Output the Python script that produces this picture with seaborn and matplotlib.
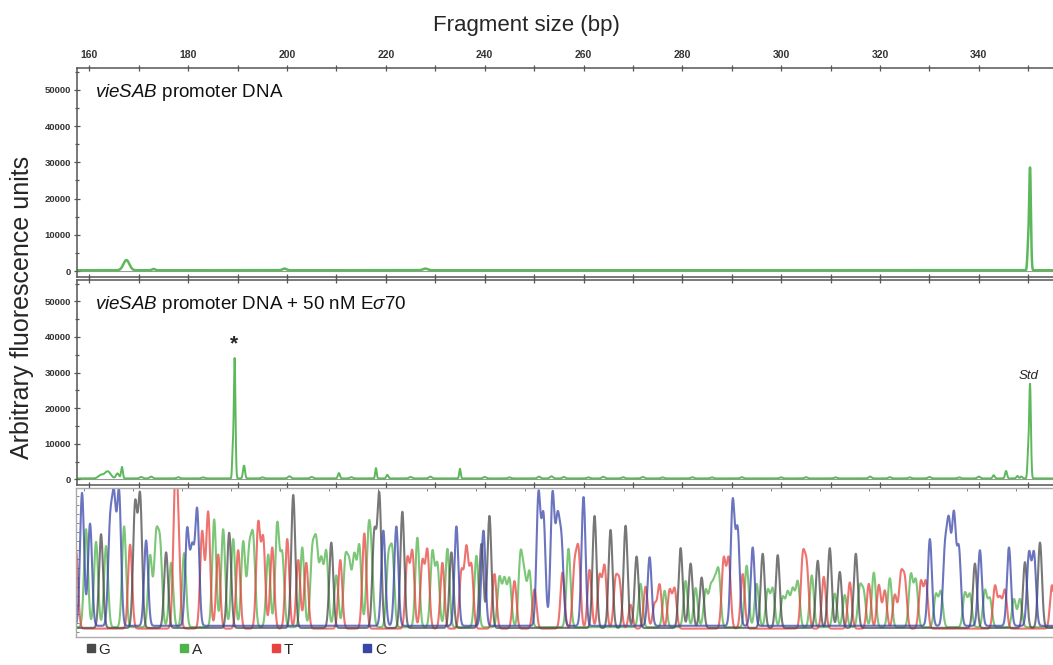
import numpy as np
import pandas as pd
import matplotlib
matplotlib.use("Agg")
import matplotlib.pyplot as plt
from matplotlib.lines import Line2D
from matplotlib.ticker import MultipleLocator
import seaborn as sns

sns.set_theme(style="white")
plt.rcParams['font.family'] = ['Liberation Sans', 'DejaVu Sans']
plt.rcParams['mathtext.fontset'] = 'custom'
plt.rcParams['mathtext.it'] = 'Liberation Sans:italic'
plt.rcParams['mathtext.rm'] = 'Liberation Sans'

# --- electropherogram peaks: position (bp), height (AFU), width (bp) ---
dna_pos = [167.5, 173.0, 199.5, 228.0, 349.95, 350.35]
dna_height = [2800, 350, 450, 450, 6000, 28200]
dna_width = [0.6, 0.3, 0.4, 0.5, 0.15, 0.18]

rnap_pos = [162.3, 163.7, 165.7, 166.6, 170.5, 172.5, 178.0, 183.0, 189.0, 189.4,
            191.3, 195.0, 200.5, 205.0, 210.5, 213.0, 218.0, 220.3, 225.0, 229.0,
            235.0, 240.0, 245.0, 251.0, 253.5, 256.0, 261.0, 264.0, 268.0, 272.0,
            276.0, 282.0, 286.0, 292.0, 300.0, 305.0, 311.0, 318.0, 322.0, 326.0,
            330.0, 336.0, 340.0, 343.0, 345.5, 347.8, 348.6, 349.95, 350.35]
rnap_height = [900, 2000, 1400, 3200, 400, 500, 350, 300, 7000, 33800,
               3600, 300, 600, 400, 1500, 350, 2900, 1000, 400, 500,
               2700, 400, 300, 500, 600, 400, 300, 450, 350, 400,
               300, 350, 300, 350, 300, 350, 300, 500, 350, 300,
               400, 300, 500, 900, 2100, 700, 500, 6000, 26500]
rnap_width = [0.5, 0.6, 0.3, 0.18, 0.3, 0.3, 0.3, 0.3, 0.12, 0.17,
              0.2, 0.3, 0.3, 0.3, 0.2, 0.3, 0.15, 0.2, 0.3, 0.3,
              0.15, 0.3, 0.3, 0.3, 0.3, 0.3, 0.3, 0.3, 0.3, 0.3,
              0.3, 0.3, 0.3, 0.3, 0.3, 0.3, 0.3, 0.3, 0.3, 0.3,
              0.3, 0.3, 0.3, 0.2, 0.2, 0.2, 0.2, 0.15, 0.18]

# --- sequencing ladder peaks: scan position, relative height ---
g_scan = [25, 59, 64, 90, 153, 217, 255, 298, 303, 326, 375, 405, 413, 518, 534,
          549, 560, 604, 614, 625, 686, 701, 741, 753, 763, 779, 898, 948, 963]
g_h = [0.67, 0.87, 0.93, 0.54, 0.68, 0.95, 0.61, 0.67, 0.94, 0.83, 0.54, 0.60, 0.80,
       0.80, 0.70, 0.73, 0.51, 0.57, 0.46, 0.36, 0.53, 0.52, 0.48, 0.57, 0.40, 0.53,
       0.46, 0.47, 0.61]

a_scan = [10, 20, 30, 48, 74, 80, 84, 95, 108, 138, 147, 157, 167, 173, 177, 192,
          201, 206, 226, 236, 240, 245, 250, 260, 269, 273, 278, 283, 292, 295, 312,
          316, 341, 356, 361, 371, 400, 423, 428, 433, 444, 448, 453, 492, 564, 588,
          609, 619, 629, 634, 638, 642, 670, 680, 691, 696, 706, 711, 716, 721, 735,
          758, 768, 783, 787, 797, 813, 834, 839, 859, 864, 888, 893, 908, 913, 937, 943]
a_h = [0.70, 0.61, 0.58, 0.72, 0.51, 0.61, 0.56, 0.46, 0.53, 0.77, 0.70, 0.63, 0.61,
       0.51, 0.60, 0.52, 0.73, 0.51, 0.57, 0.51, 0.56, 0.46, 0.53, 0.37, 0.46, 0.41,
       0.49, 0.57, 0.58, 0.42, 0.46, 0.51, 0.64, 0.53, 0.44, 0.56, 0.51, 0.35, 0.33,
       0.34, 0.50, 0.33, 0.39, 0.56, 0.31, 0.26, 0.33, 0.28, 0.26, 0.26, 0.28, 0.38,
       0.44, 0.31, 0.26, 0.27, 0.21, 0.24, 0.26, 0.32, 0.37, 0.24, 0.23, 0.27, 0.23,
       0.39, 0.35, 0.37, 0.33, 0.23, 0.25, 0.24, 0.23, 0.26, 0.20, 0.20, 0.20]

t_scan = [0, 54, 99, 102, 126, 132, 142, 162, 182, 187, 196, 211, 222, 230, 264, 288,
          331, 336, 346, 351, 366, 385, 390, 395, 418, 438, 458, 486, 498, 502, 513,
          523, 528, 539, 543, 554, 569, 578, 583, 593, 598, 647, 652, 666, 726, 730,
          747, 773, 792, 802, 808, 818, 824, 828, 844, 849, 918, 923, 928, 975]
t_h = [0.56, 0.60, 0.93, 0.60, 0.69, 0.83, 0.53, 0.56, 0.74, 0.63, 0.58, 0.64, 0.49,
       0.47, 0.49, 0.68, 0.49, 0.54, 0.47, 0.55, 0.47, 0.40, 0.56, 0.44, 0.39, 0.34,
       0.28, 0.40, 0.42, 0.53, 0.42, 0.37, 0.44, 0.33, 0.31, 0.17, 0.30, 0.17, 0.31,
       0.27, 0.28, 0.49, 0.49, 0.39, 0.49, 0.42, 0.37, 0.33, 0.32, 0.31, 0.27, 0.24,
       0.36, 0.33, 0.33, 0.33, 0.30, 0.21, 0.27, 0.31]

c_scan = [6, 14, 34, 38, 43, 70, 111, 116, 121, 307, 320, 380, 407, 462, 467, 476,
          481, 485, 507, 573, 656, 661, 676, 853, 868, 872, 877, 882, 903, 932, 952, 957]
c_h = [0.95, 0.73, 0.68, 0.84, 0.94, 0.61, 0.68, 0.53, 0.82, 0.68, 0.71, 0.71, 0.68,
       0.93, 0.77, 0.93, 0.70, 0.56, 0.92, 0.49, 0.88, 0.67, 0.56, 0.62, 0.51, 0.68,
       0.77, 0.54, 0.54, 0.56, 0.51, 0.51]

bases = ["G", "A", "T", "C"]
base_colors = {"G": "#4a4a4a", "A": "#4fb34a", "T": "#e8443f", "C": "#3a45a8"}
base_floor = {"G": 0.03, "A": 0.035, "T": 0.025, "C": 0.045}

green = "#5cb85a"
spine_col = "#555555"


def trace(grid, pos, height, width):
    y = np.zeros_like(grid)
    for p, h, w in zip(pos, height, width):
        y += h * np.exp(-0.5 * ((grid - p) / w) ** 2)
    return y


bp = np.linspace(157.5, 355, 8000)
dna_df = pd.DataFrame({"bp": bp, "afu": trace(bp, dna_pos, dna_height, dna_width) + 250})
rnap_df = pd.DataFrame({"bp": bp, "afu": trace(bp, rnap_pos, rnap_height, rnap_width) + 250})

scan = np.linspace(-5, 980, 6000)
ladder = {"G": (g_scan, g_h), "A": (a_scan, a_h), "T": (t_scan, t_h), "C": (c_scan, c_h)}
seq_parts = []
for b in bases:
    s, h = ladder[b]
    sig = trace(scan, s, h, [2.0] * len(s)) + base_floor[b]
    seq_parts.append(pd.DataFrame({"scan": scan, "signal": sig, "base": b}))
seq_df = pd.concat(seq_parts, ignore_index=True)

fig = plt.figure(figsize=(10.53, 6.65), dpi=100)
ax1 = fig.add_axes([0.0731, 0.5835, 0.9269, 0.3142])
ax2 = fig.add_axes([0.0731, 0.2707, 0.9269, 0.3082])
ax3 = fig.add_axes([0.0722, 0.0421, 0.9278, 0.2241])

sns.lineplot(data=dna_df, x="bp", y="afu", ax=ax1, color=green, lw=1.8)
sns.lineplot(data=rnap_df, x="bp", y="afu", ax=ax2, color=green, lw=1.4)

tick_font = dict(fontsize=7.5, fontweight="bold", color="#333333")

for ax in (ax1, ax2):
    ax.set_xlim(157.5, 355)
    ax.set_ylim(-1600, 56000)
    ax.axhline(0, color="#999999", lw=0.8, zorder=0)
    ax.yaxis.set_minor_locator(MultipleLocator(5000))
    ax.tick_params(axis="both", which="both", direction="inout", color=spine_col,
                   length=5, width=0.9, top=True, bottom=True, left=True, right=False)
    ax.tick_params(axis="y", which="minor", length=3)
    ax.set_xticks(range(160, 351, 10))
    ax.tick_params(axis="x", labelbottom=False, labeltop=False)
    ax.set_yticks(range(0, 50001, 10000))
    ax.set_yticklabels([str(v) for v in range(0, 50001, 10000)], fontsize=6.8,
                       fontweight="bold", color="#333333")
    ax.tick_params(axis="y", pad=2)
    for side in ("top", "bottom", "left"):
        ax.spines[side].set_color(spine_col)
        ax.spines[side].set_linewidth(1.1)
    ax.spines["right"].set_visible(False)
    ax.set_xlabel("")
    ax.set_ylabel("")

# top axis labels
top_ticks = list(range(160, 341, 20))
ax1.set_xticklabels([str(t) if t in top_ticks else "" for t in range(160, 351, 10)], **tick_font)
ax1.tick_params(axis="x", labeltop=True, pad=3)
ax1.set_title("Fragment size (bp)", fontsize=16, pad=27, x=0.46)

ax1.text(0.018, 0.86, r"$\mathit{vieSAB}$ promoter DNA", transform=ax1.transAxes,
         fontsize=13.5, color="#111111")
ax2.text(0.018, 0.86, r"$\mathit{vieSAB}$ promoter DNA + 50 nM E$\sigma$70",
         transform=ax2.transAxes, fontsize=13.5, color="#111111")
ax2.text(189.3, 35300, "*", ha="center", va="bottom", fontsize=15, fontweight="bold")
ax2.text(350.0, 27300, "Std", ha="center", va="bottom", fontsize=9.5, style="italic")

fig.text(0.021, 0.537, "Arbitrary fluorescence units", rotation=90, ha="center",
         va="center", fontsize=18)

# sequencing ladder
sns.lineplot(data=seq_df, x="scan", y="signal", hue="base", hue_order=["A", "T", "G", "C"],
             palette=base_colors, ax=ax3, lw=1.5, alpha=0.75, legend=False, estimator=None)
ax3.set_xlim(0, 976)
ax3.set_ylim(-0.035, 1.03)
ax3.set_xticks(np.arange(8, 976, 49))
ax3.yaxis.set_major_locator(MultipleLocator(0.065))
ax3.tick_params(axis="both", which="both", direction="in", color="#888888", length=2.5,
                width=0.7, top=True, bottom=False, left=True, right=False,
                labelbottom=False, labelleft=False)
for side in ("top", "bottom", "left"):
    ax3.spines[side].set_color("#aaaaaa")
    ax3.spines[side].set_linewidth(1.0)
ax3.spines["right"].set_visible(False)
ax3.set_xlabel("")
ax3.set_ylabel("")

handles = [Line2D([], [], ls="none", marker="s", markersize=6, color=base_colors[b])
           for b in bases]
fig.legend(handles, bases, loc="lower left", bbox_to_anchor=(0.069, -0.008), ncol=4,
           frameon=False, handlelength=0.6, handletextpad=0.2, columnspacing=4.55,
           fontsize=11)

fig.savefig("out.png", dpi=100)
